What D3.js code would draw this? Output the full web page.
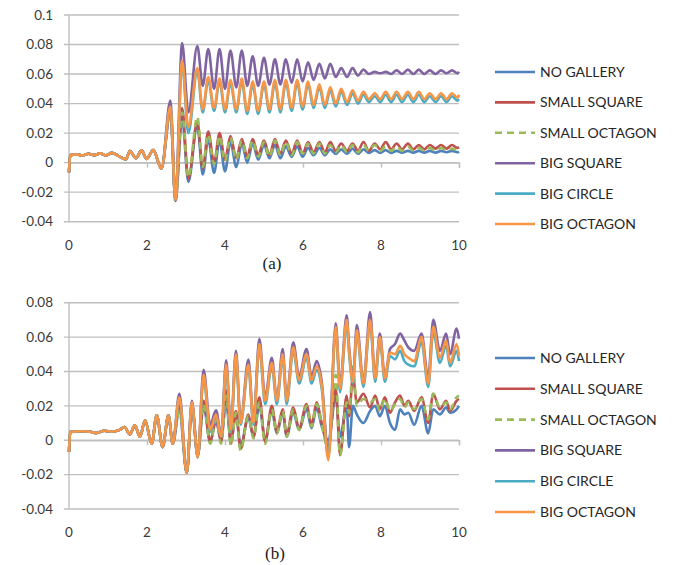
<!DOCTYPE html>
<html>
<head>
<meta charset="utf-8">
<script src="https://cdn.jsdelivr.net/npm/d3@7"></script>
<style>
  body { margin: 0; background: #fff; }
  svg text { font-family: Lato, "Open Sans", sans-serif; fill: #3a3a3a; }
</style>
</head>
<body>
<svg id="chart" width="676" height="565"></svg>
<script>
const SVG = d3.select('#chart');
const X_LEFT = 69;
const X_RIGHT = 459;
const LINE_WIDTH = 2.6;

// DATA

const SERIES_NAMES = ['NO GALLERY', 'SMALL SQUARE', 'SMALL OCTAGON', 'BIG SQUARE', 'BIG CIRCLE', 'BIG OCTAGON'];
const X_TICKS = [0, 2, 4, 6, 8, 10];
const Y_TICKS_A = [-0.04, -0.02, 0, 0.02, 0.04, 0.06, 0.08, 0.1];
const Y_TICKS_B = [-0.04, -0.02, 0, 0.02, 0.04, 0.06, 0.08];

// (a) time points
const timeA = [0, 0.03, 0.2, 0.35, 0.5, 0.65, 0.8, 0.95, 1.1, 1.25, 1.46, 1.56, 1.72, 1.86, 1.99, 2.16, 2.37, 2.6, 2.73, 2.9, 3.06,
  3.29, 3.43, 3.57, 3.72, 3.86, 4.0, 4.14, 4.29, 4.43, 4.57, 4.71, 4.85, 5.0, 5.14, 5.28, 5.42, 5.56, 5.71, 5.85, 5.99,
  6.13, 6.27, 6.42, 6.56, 6.7, 6.84, 6.98, 7.13, 7.27, 7.41, 7.55, 7.69, 7.84, 7.98, 8.12, 8.26, 8.4, 8.54, 8.69, 8.83,
  8.97, 9.11, 9.25, 9.4, 9.54, 9.68, 9.82, 9.96, 10.0];

// all six curves coincide before the impulse
const startA = [-0.0066, 0.005, 0.0056, 0.0049, 0.006, 0.0051, 0.0063, 0.0049, 0.0066, 0.0048, 0.0022, 0.0079, 0.003, 0.0083, 0.0025, 0.0085, -0.004];

const noGalleryA = startA.concat([0.034, -0.026, 0.030, -0.013,
  0.025, -0.008, 0.016, -0.007, 0.015, -0.006, 0.014, -0.003, 0.013, 0.000, 0.013, 0.002, 0.012, 0.003, 0.012, 0.003,
  0.011, 0.004, 0.011, 0.004, 0.010, 0.005, 0.010, 0.005, 0.009, 0.006, 0.009, 0.006, 0.0095, 0.006, 0.009, 0.0065,
  0.0085, 0.0065, 0.0085, 0.0065, 0.008, 0.0068, 0.008, 0.0068, 0.008, 0.0068, 0.008, 0.0068, 0.008, 0.007, 0.008, 0.007, 0.0075]);
const smallSquareA = startA.concat([0.036, -0.026, 0.037, -0.011,
  0.028, -0.004, 0.021, 0.000, 0.020, 0.002, 0.018, 0.003, 0.016, 0.004, 0.016, 0.005, 0.015, 0.005, 0.016, 0.006,
  0.015, 0.006, 0.015, 0.006, 0.014, 0.007, 0.014, 0.007, 0.014, 0.008, 0.013, 0.008, 0.013, 0.008, 0.014, 0.008,
  0.013, 0.009, 0.014, 0.009, 0.013, 0.009, 0.013, 0.009, 0.012, 0.009, 0.012, 0.0095, 0.012, 0.0095, 0.012, 0.010, 0.0105]);
const smallOctagonA = startA.concat([0.035, -0.027, 0.034, -0.010,
  0.031, -0.003, 0.019, -0.001, 0.018, 0.001, 0.017, 0.002, 0.015, 0.003, 0.015, 0.004, 0.014, 0.004, 0.015, 0.005,
  0.014, 0.005, 0.014, 0.006, 0.013, 0.006, 0.013, 0.006, 0.012, 0.007, 0.012, 0.007, 0.012, 0.007, 0.012, 0.008,
  0.012, 0.008, 0.011, 0.008, 0.011, 0.008, 0.011, 0.008, 0.010, 0.008, 0.010, 0.008, 0.010, 0.0085, 0.0095, 0.0085, 0.009]);
const bigSquareA = startA.concat([0.042, -0.025, 0.081, 0.034,
  0.079, 0.052, 0.077, 0.050, 0.077, 0.050, 0.076, 0.051, 0.076, 0.052, 0.072, 0.052, 0.071, 0.053, 0.070, 0.053,
  0.070, 0.054, 0.070, 0.055, 0.068, 0.056, 0.067, 0.057, 0.067, 0.058, 0.064, 0.058, 0.064, 0.059, 0.063, 0.060,
  0.0615, 0.0605, 0.0615, 0.060, 0.0625, 0.060, 0.063, 0.060, 0.063, 0.060, 0.0625, 0.060, 0.0625, 0.0605, 0.0625, 0.0605, 0.0615]);
const bigCircleA = startA.concat([0.037, -0.025, 0.067, 0.020,
  0.062, 0.034, 0.056, 0.035, 0.055, 0.034, 0.054, 0.034, 0.055, 0.033, 0.053, 0.033, 0.053, 0.034, 0.054, 0.034,
  0.054, 0.035, 0.054, 0.036, 0.053, 0.037, 0.051, 0.037, 0.049, 0.038, 0.048, 0.039, 0.047, 0.040, 0.046, 0.041,
  0.045, 0.041, 0.046, 0.041, 0.046, 0.041, 0.046, 0.041, 0.046, 0.041, 0.045, 0.041, 0.045, 0.041, 0.045, 0.042, 0.043]);
const bigOctagonA = startA.concat([0.038, -0.025, 0.069, 0.024,
  0.064, 0.036, 0.058, 0.037, 0.057, 0.036, 0.056, 0.036, 0.057, 0.035, 0.055, 0.035, 0.055, 0.036, 0.056, 0.036,
  0.056, 0.037, 0.056, 0.038, 0.055, 0.039, 0.053, 0.039, 0.051, 0.040, 0.050, 0.041, 0.049, 0.042, 0.048, 0.043,
  0.047, 0.043, 0.048, 0.043, 0.048, 0.043, 0.048, 0.043, 0.048, 0.043, 0.047, 0.043, 0.047, 0.043, 0.047, 0.044, 0.046]);

// (b) time points
const timeB = [0, 0.03, 0.3, 0.55, 0.7, 0.9, 1.1, 1.3, 1.42, 1.56, 1.69, 1.82, 1.95, 2.12, 2.25, 2.4, 2.55, 2.66,
  2.83, 3.02, 3.15, 3.3, 3.45, 3.62, 3.77, 3.9, 4.03, 4.15, 4.28, 4.4, 4.6, 4.73, 4.88, 5.03, 5.2, 5.33, 5.48, 5.58,
  5.75, 5.9, 6.09, 6.22, 6.35, 6.48, 6.65, 6.84, 6.95, 7.12, 7.18, 7.28, 7.38, 7.55, 7.72, 7.85, 7.97, 8.1, 8.23,
  8.36, 8.49, 8.6, 8.7, 8.85, 9.04, 9.21, 9.34, 9.51, 9.67, 9.77, 9.94, 10.0];

const startB = [-0.0068, 0.0048, 0.0052, 0.0049, 0.0042, 0.0055, 0.005, 0.006, 0.0077, 0.0035, 0.0087, 0.002, 0.0116, -0.002, 0.0145, -0.004, 0.0145, -0.002];

const noGalleryB = startB.concat([0.018, -0.019, 0.019, -0.009, 0.020, -0.001, 0.011, 0.000, 0.022, -0.001,
  0.015, -0.003, 0.013, 0.002, 0.020, 0.000, 0.017, 0.004, 0.016, 0.002, 0.016, 0.006, 0.018, 0.007, 0.019, 0.008,
  0.000, 0.025, 0.002, 0.020, -0.004, 0.020, 0.015, 0.010, 0.017, 0.020, 0.014, 0.020, 0.010, 0.006, 0.018, 0.015,
  0.016, 0.009, 0.020, 0.004, 0.018, 0.015, 0.019, 0.016, 0.018, 0.020]);
const smallSquareB = startB.concat([0.020, -0.019, 0.021, -0.009, 0.023, -0.001, 0.013, -0.001, 0.029, -0.002,
  0.017, -0.005, 0.015, 0.002, 0.025, -0.001, 0.020, 0.005, 0.018, 0.003, 0.019, 0.007, 0.021, 0.009, 0.022, 0.010,
  -0.004, 0.030, -0.0087, 0.026, 0.014, 0.037, 0.022, 0.027, 0.019, 0.026, 0.018, 0.025, 0.016, 0.022, 0.026, 0.020,
  0.023, 0.017, 0.025, 0.010, 0.027, 0.018, 0.023, 0.017, 0.023, 0.024]);
const smallOctagonB = startB.concat([0.017, -0.019, 0.020, -0.009, 0.021, -0.002, 0.012, -0.002, 0.026, -0.003,
  0.016, -0.006, 0.014, 0.001, 0.022, -0.002, 0.018, 0.004, 0.017, 0.002, 0.018, 0.006, 0.020, 0.008, 0.021, 0.009,
  -0.005, 0.038, -0.0087, 0.022, 0.016, 0.043, 0.020, 0.024, 0.022, 0.024, 0.017, 0.024, 0.017, 0.021, 0.024, 0.019,
  0.022, 0.018, 0.024, 0.012, 0.027, 0.019, 0.022, 0.018, 0.025, 0.026]);
const bigSquareB = startB.concat([0.027, -0.019, 0.023, -0.0097, 0.041, 0.009, 0.0174, 0.003, 0.0465, 0.007,
  0.052, 0.011, 0.047, 0.011, 0.059, 0.025, 0.048, 0.024, 0.053, 0.024, 0.057, 0.037, 0.053, 0.037, 0.046, 0.034,
  -0.008, 0.068, 0.032, 0.0727, 0.055, 0.035, 0.067, 0.034, 0.0746, 0.037, 0.062, 0.037, 0.053, 0.056, 0.062, 0.058,
  0.054, 0.052, 0.062, 0.036, 0.070, 0.052, 0.062, 0.050, 0.065, 0.059]);
const bigCircleB = startB.concat([0.024, -0.019, 0.021, -0.010, 0.036, 0.005, 0.014, 0.002, 0.042, 0.005,
  0.048, 0.009, 0.042, 0.009, 0.054, 0.021, 0.043, 0.021, 0.048, 0.021, 0.052, 0.033, 0.048, 0.033, 0.041, 0.030,
  -0.010, 0.064, 0.028, 0.068, 0.051, 0.033, 0.062, 0.031, 0.068, 0.034, 0.058, 0.034, 0.049, 0.047, 0.052, 0.046,
  0.044, 0.043, 0.057, 0.031, 0.063, 0.045, 0.055, 0.043, 0.052, 0.046]);
const bigOctagonB = startB.concat([0.025, -0.019, 0.022, -0.010, 0.038, 0.006, 0.015, 0.002, 0.044, 0.006,
  0.050, 0.010, 0.044, 0.010, 0.056, 0.023, 0.045, 0.023, 0.050, 0.023, 0.054, 0.035, 0.050, 0.035, 0.043, 0.032,
  -0.0116, 0.066, 0.030, 0.070, 0.053, 0.034, 0.064, 0.033, 0.070, 0.036, 0.060, 0.036, 0.051, 0.050, 0.055, 0.050,
  0.048, 0.046, 0.060, 0.033, 0.066, 0.048, 0.058, 0.045, 0.056, 0.049]);

// STYLES (Excel 2010 palette)
const COLORS = ['#4F81BD', '#C0504D', '#9BBB59', '#8064A2', '#4BACC6', '#F79646'];
const DASHES = [null, null, '7,5', null, null, null];

// FUNCTIONS

function formatTick(v) {
  return String(+v.toFixed(2));
}

function drawPanel(p) {
  const g = SVG.append('g');
  const x = d3.scaleLinear().domain([0, 10]).range([X_LEFT, X_RIGHT]);
  const y = d3.scaleLinear().domain(p.domain).range([p.bottom, p.top]);

  // horizontal gridlines + small outer ticks on the value axis
  g.selectAll('line.grid')
    .data(p.yTicks)
    .join('line')
    .attr('class', 'grid')
    .attr('x1', X_LEFT - 5)
    .attr('x2', X_RIGHT)
    .attr('y1', d => y(d))
    .attr('y2', d => y(d))
    .attr('stroke', '#BFBFBF')
    .attr('stroke-width', 1.4);

  g.append('line')
    .attr('x1', X_LEFT).attr('x2', X_LEFT)
    .attr('y1', p.top).attr('y2', p.bottom)
    .attr('stroke', '#BFBFBF')
    .attr('stroke-width', 1.4);

  // category axis sits on zero, ticks hang down
  const xAxis = g.append('g')
    .attr('transform', `translate(0,${y(0)})`)
    .call(d3.axisBottom(x).tickValues(X_TICKS).tickSize(5).tickFormat(''));
  xAxis.select('.domain').attr('stroke', '#BFBFBF').attr('stroke-width', 1.4);
  xAxis.selectAll('.tick line').attr('stroke', '#BFBFBF').attr('stroke-width', 1.4);

  g.selectAll('text.ylab')
    .data(p.yTicks)
    .join('text')
    .attr('class', 'ylab')
    .attr('x', 53)
    .attr('y', d => y(d))
    .attr('dy', '0.35em')
    .attr('text-anchor', 'end')
    .attr('font-size', 13.5)
    .text(formatTick);

  g.selectAll('text.xlab')
    .data(X_TICKS)
    .join('text')
    .attr('class', 'xlab')
    .attr('x', d => x(d))
    .attr('y', p.xLabelY)
    .attr('text-anchor', 'middle')
    .attr('font-size', 13.5)
    .text(d => d);

  const line = d3.line()
    .x(d => x(d[0]))
    .y(d => y(d[1]))
    .defined(d => d[1] != null)
    .curve(d3.curveMonotoneX);

  p.series.forEach((values, i) => {
    g.append('path')
      .datum(p.times.map((t, k) => [t, values[k]]))
      .attr('d', line)
      .attr('fill', 'none')
      .attr('stroke', COLORS[i])
      .attr('stroke-width', LINE_WIDTH)
      .attr('stroke-linejoin', 'round')
      .attr('stroke-dasharray', DASHES[i]);
  });

  // legend
  const legend = g.selectAll('g.item')
    .data(SERIES_NAMES)
    .join('g')
    .attr('class', 'item')
    .attr('transform', (d, i) => `translate(0,${p.legendTop + i * p.legendStep})`);
  legend.append('line')
    .attr('x1', 495).attr('x2', 535)
    .attr('stroke', (d, i) => COLORS[i])
    .attr('stroke-width', LINE_WIDTH)
    .attr('stroke-dasharray', (d, i) => DASHES[i]);
  legend.append('text')
    .attr('x', 540)
    .attr('dy', '0.36em')
    .attr('font-size', 14)
    .style('fill', '#262626')
    .text(d => d);

  g.append('text')
    .attr('x', p.captionX)
    .attr('y', p.captionY)
    .attr('text-anchor', 'middle')
    .attr('font-size', 17)
    .style('font-family', '"Liberation Serif", serif')
    .style('fill', '#1a1a1a')
    .text(p.caption);
}

drawPanel({
  top: 15, bottom: 221.7, domain: [-0.04, 0.1], yTicks: Y_TICKS_A, xLabelY: 250,
  times: timeA,
  series: [noGalleryA, smallSquareA, smallOctagonA, bigSquareA, bigCircleA, bigOctagonA],
  legendTop: 72, legendStep: 30.4,
  caption: '(a)', captionX: 272, captionY: 269
});

drawPanel({
  top: 302.7, bottom: 509, domain: [-0.04, 0.08], yTicks: Y_TICKS_B, xLabelY: 537,
  times: timeB,
  series: [noGalleryB, smallSquareB, smallOctagonB, bigSquareB, bigCircleB, bigOctagonB],
  legendTop: 358, legendStep: 30.8,
  caption: '(b)', captionX: 275, captionY: 559
});
</script>
</body>
</html>
